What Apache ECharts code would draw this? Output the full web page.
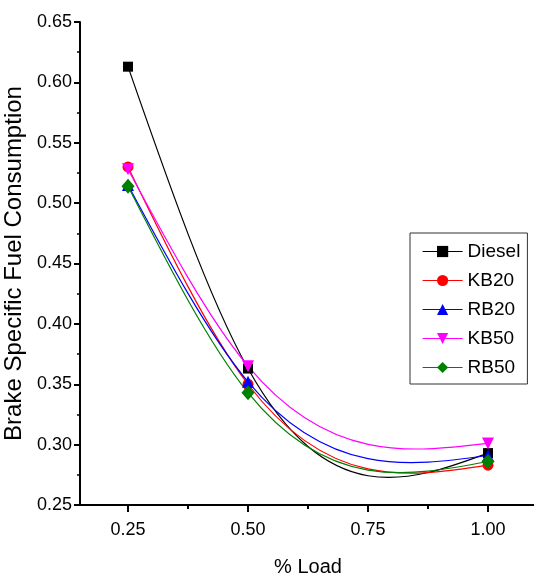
<!DOCTYPE html>
<html>
<head>
<meta charset="utf-8">
<script src="https://cdn.jsdelivr.net/npm/echarts@6/dist/echarts.min.js"></script>
<style>
html,body{margin:0;padding:0;background:#fff;}
#chart{width:534px;height:575px;}
</style>
</head>
<body>
<div id="chart"></div>
<script>
// ---- data ----
const loads = [0.25, 0.50, 1.00];
const seriesNames = ['Diesel', 'KB20', 'RB20', 'KB50', 'RB50'];
const diesel = [0.613, 0.363, 0.293];
const kb20 = [0.530, 0.350, 0.283];
const rb20 = [0.515, 0.352, 0.291];
const kb50 = [0.528, 0.365, 0.301];
const rb50 = [0.514, 0.343, 0.286];
const xMajorTicks = [0.25, 0.50, 0.75, 1.00];
const xMinorTicks = [0.375, 0.625, 0.875];

// ---- styling ----
const styles = {
  Diesel: {values: diesel, color: '#000000', symbol: 'rect', size: 10, rotate: 0},
  KB20: {values: kb20, color: '#ff0000', symbol: 'circle', size: 11, rotate: 0},
  RB20: {values: rb20, color: '#0000ff', symbol: 'triangle', size: 12, rotate: 0},
  KB50: {values: kb50, color: '#ff00ff', symbol: 'triangle', size: 12, rotate: 180},
  RB50: {values: rb50, color: '#008000', symbol: 'diamond', size: [13, 15], rotate: 0}
};

// natural cubic spline -> exact cubic Bezier segments (in data coords)
function splineBeziers(xs, ys) {
  const n = xs.length;
  const h = [];
  for (let i = 0; i < n - 1; i++) h.push(xs[i + 1] - xs[i]);
  const M = new Array(n).fill(0);
  if (n > 2) {
    const a = [], b = [], c = [], d = [];
    for (let i = 1; i < n - 1; i++) {
      a.push(h[i - 1]);
      b.push(2 * (h[i - 1] + h[i]));
      c.push(h[i]);
      d.push(6 * ((ys[i + 1] - ys[i]) / h[i] - (ys[i] - ys[i - 1]) / h[i - 1]));
    }
    const m = b.length;
    for (let i = 1; i < m; i++) {
      const w = a[i] / b[i - 1];
      b[i] -= w * c[i - 1];
      d[i] -= w * d[i - 1];
    }
    const sol = new Array(m);
    sol[m - 1] = d[m - 1] / b[m - 1];
    for (let i = m - 2; i >= 0; i--) sol[i] = (d[i] - c[i] * sol[i + 1]) / b[i];
    for (let i = 0; i < m; i++) M[i + 1] = sol[i];
  }
  const segs = [];
  for (let i = 0; i < n - 1; i++) {
    const hi = h[i];
    const s = (ys[i + 1] - ys[i]) / hi;
    const d0 = s - hi * (2 * M[i] + M[i + 1]) / 6;
    const d1 = s + hi * (M[i] + 2 * M[i + 1]) / 6;
    segs.push([
      [xs[i], ys[i]],
      [xs[i] + hi / 3, ys[i] + d0 * hi / 3],
      [xs[i + 1] - hi / 3, ys[i + 1] - d1 * hi / 3],
      [xs[i + 1], ys[i + 1]]
    ]);
  }
  return segs;
}

const markerSeries = seriesNames.map(function (name) {
  const st = styles[name];
  return {
    type: 'line',
    name: name,
    data: loads.map(function (x, i) { return [x, st.values[i]]; }),
    symbol: st.symbol,
    symbolSize: st.size,
    symbolRotate: st.rotate,
    showAllSymbol: true,
    itemStyle: {color: st.color},
    lineStyle: {opacity: 0, color: st.color},
    z: 5,
    animation: false
  };
});

const curveSeries = seriesNames.map(function (name) {
  const st = styles[name];
  return {
    type: 'custom',
    name: name,
    silent: true,
    z: 3,
    data: [[loads[0], st.values[0]]],
    encode: {x: 0, y: 1},
    renderItem: function (params, api) {
      const segs = splineBeziers(loads, st.values);
      const children = segs.map(function (sg) {
        const p0 = api.coord(sg[0]), p1 = api.coord(sg[1]), p2 = api.coord(sg[2]), p3 = api.coord(sg[3]);
        return {
          type: 'bezierCurve',
          shape: {x1: p0[0], y1: p0[1], cpx1: p1[0], cpy1: p1[1], cpx2: p2[0], cpy2: p2[1], x2: p3[0], y2: p3[1]},
          style: {stroke: st.color, lineWidth: 1.2, fill: 'none'}
        };
      });
      return {type: 'group', children: children};
    },
    animation: false
  };
});

const chart = echarts.init(document.getElementById('chart'), null, {renderer: 'canvas'});
chart.setOption({
  backgroundColor: '#ffffff',
  animation: false,
  grid: {left: 80, top: 22, width: 456, height: 483, containLabel: false, outerBoundsMode: 'none'},
  legend: {
    orient: 'vertical',
    left: 410,
    top: 233,
    padding: [9, 7, 7, 12],
    itemGap: 10,
    itemWidth: 40,
    itemHeight: 14,
    borderColor: '#333',
    borderWidth: 1,
    selectedMode: false,
    textStyle: {fontSize: 19, color: '#000', fontFamily: 'Liberation Sans, Arial, sans-serif'},
    data: seriesNames.map(function (name) {
      return {name: name, lineStyle: {opacity: 1, width: 1.2, color: styles[name].color}};
    })
  },
  xAxis: [{
    type: 'value',
    min: 0.15,
    max: 1.1,
    name: '% Load',
    nameLocation: 'middle',
    nameGap: 52,
    nameTextStyle: {fontSize: 20, color: '#000', fontFamily: 'Liberation Sans, Arial, sans-serif'},
    axisLine: {show: true, onZero: false, lineStyle: {color: '#000', width: 2}},
    axisTick: {show: true, inside: false, length: 7, customValues: xMajorTicks, lineStyle: {color: '#000', width: 2}},
    axisLabel: {show: true, margin: 16, customValues: xMajorTicks, fontSize: 18, color: '#000',
      fontFamily: 'Liberation Sans Narrow, Arial Narrow, Liberation Sans, sans-serif',
      formatter: function (v) { return v.toFixed(2); }},
    splitLine: {show: false}
  }, {
    type: 'value',
    min: 0.15,
    max: 1.1,
    position: 'bottom',
    axisLine: {show: false},
    axisTick: {show: true, inside: false, length: 4, customValues: xMinorTicks, lineStyle: {color: '#000', width: 2}},
    axisLabel: {show: false},
    splitLine: {show: false}
  }],
  yAxis: {
    type: 'value',
    min: 0.25,
    max: 0.65,
    interval: 0.05,
    name: 'Brake Specific Fuel Consumption',
    nameLocation: 'middle',
    nameGap: 48,
    nameTextStyle: {fontSize: 24, color: '#000', fontFamily: 'Liberation Sans, Arial, sans-serif'},
    axisLine: {show: true, onZero: false, lineStyle: {color: '#000', width: 2}},
    axisTick: {show: true, inside: false, length: 6, lineStyle: {color: '#000', width: 2}},
    minorTick: {show: true, splitNumber: 2, length: 3, lineStyle: {color: '#000', width: 1.5}},
    axisLabel: {margin: 8, fontSize: 18, color: '#000', fontFamily: 'Liberation Sans, Arial, sans-serif',
      formatter: function (v) { return v.toFixed(2); }},
    splitLine: {show: false}
  },
  series: markerSeries.concat(curveSeries)
});
</script>
</body>
</html>
